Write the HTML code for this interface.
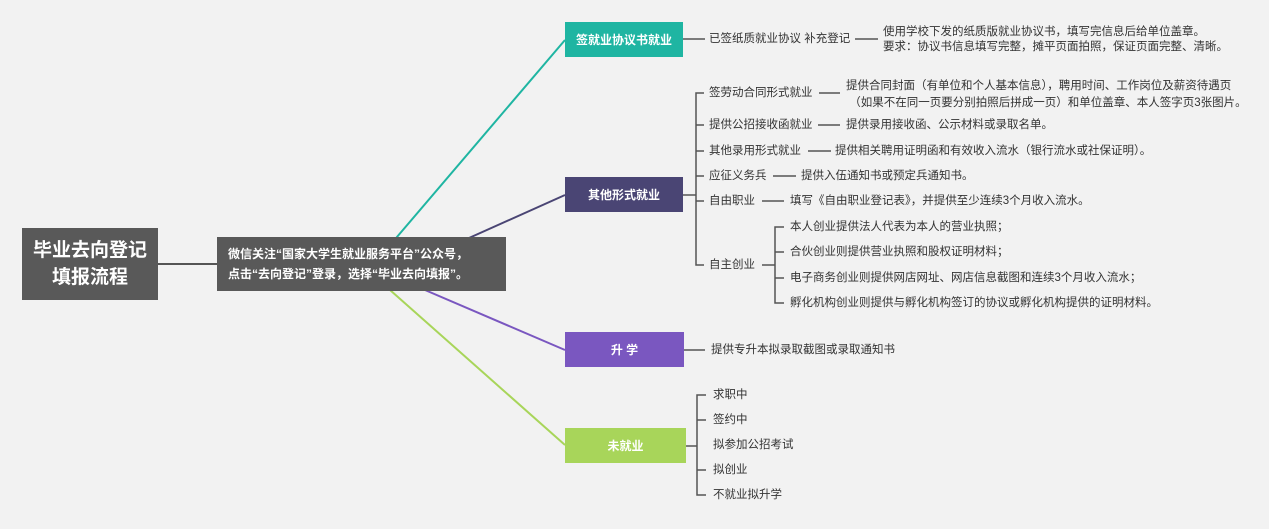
<!DOCTYPE html>
<html><head><meta charset="utf-8"><style>
html,body{margin:0;padding:0;}
body{width:1269px;height:529px;background:#f2f2f2;position:relative;overflow:hidden;font-family:"Liberation Sans","Noto Sans CJK SC",sans-serif;}
.t{position:absolute;font-size:11.5px;color:#333;white-space:nowrap;line-height:13px;}
.b{position:absolute;color:#fff;display:flex;align-items:center;justify-content:center;font-size:12px;}
svg{position:absolute;left:0;top:0;}
</style></head><body>
<svg width="1269" height="529">
<g fill="none" stroke-width="2">
<line x1="158" y1="264" x2="217" y2="264" stroke="#555"/>
<line x1="385" y1="251" x2="565" y2="40" stroke="#1fb5a2"/>
<line x1="440" y1="251" x2="565" y2="195" stroke="#4a4574"/>
<line x1="425" y1="290" x2="565" y2="350" stroke="#7a57c0"/>
<line x1="390" y1="290" x2="565" y2="445" stroke="#a8d55a"/>
</g>
<g fill="none" stroke="#555" stroke-width="1.5">
<line x1="683" y1="39" x2="705" y2="39"/>
<line x1="855" y1="39" x2="878" y2="39"/>
<line x1="683" y1="195" x2="696" y2="195"/>
<path d="M704 93 H696 V265 H704"/>
<line x1="696" y1="125" x2="704" y2="125"/>
<line x1="696" y1="151" x2="704" y2="151"/>
<line x1="696" y1="176" x2="704" y2="176"/>
<line x1="696" y1="201" x2="704" y2="201"/>
<line x1="819" y1="93" x2="840" y2="93"/>
<line x1="818" y1="125" x2="840" y2="125"/>
<line x1="808" y1="151" x2="831" y2="151"/>
<line x1="773" y1="176" x2="796" y2="176"/>
<line x1="762" y1="201" x2="784" y2="201"/>
<line x1="762" y1="265" x2="775" y2="265"/>
<path d="M784 227 H775 V303 H784"/>
<line x1="775" y1="252" x2="784" y2="252"/>
<line x1="775" y1="278" x2="784" y2="278"/>
<line x1="684" y1="350" x2="705" y2="350"/>
<line x1="686" y1="446" x2="697" y2="446"/>
<path d="M706 395 H697 V495 H706"/>
<line x1="697" y1="420" x2="706" y2="420"/>
<line x1="697" y1="470" x2="706" y2="470"/>
</g>
</svg>
<div class="b" style="left:22px;top:228px;width:136px;height:72px;background:#595959;font-size:19px;font-weight:bold;line-height:27px;text-align:center;">毕业去向登记<br>填报流程</div>
<div class="b" style="left:217px;top:237px;width:289px;height:54px;background:#595959;font-size:12px;font-weight:bold;justify-content:flex-start;padding-left:11px;box-sizing:border-box;line-height:20px;">微信关注“国家大学生就业服务平台”公众号，<br>点击“去向登记”登录，选择“毕业去向填报”。</div>
<div class="b" style="left:565px;top:22px;width:118px;height:35px;background:#1fb5a2;font-weight:bold;">签就业协议书就业</div>
<div class="b" style="left:565px;top:177px;width:118px;height:35px;background:#4a4574;font-weight:bold;">其他形式就业</div>
<div class="b" style="left:565px;top:332px;width:119px;height:35px;background:#7a57c0;font-weight:bold;">升&nbsp;学</div>
<div class="b" style="left:565px;top:428px;width:121px;height:35px;background:#a8d55a;font-weight:bold;">未就业</div>

<div class="t" style="left:709px;top:33px;">已签纸质就业协议 补充登记</div>
<div class="t" style="left:883px;top:25px;line-height:15px;">使用学校下发的纸质版就业协议书，填写完信息后给单位盖章。<br>要求：协议书信息填写完整，摊平页面拍照，保证页面完整、清晰。</div>

<div class="t" style="left:709px;top:87px;">签劳动合同形式就业</div>
<div class="t" style="left:846px;top:78px;line-height:17px;">提供合同封面（有单位和个人基本信息），聘用时间、工作岗位及薪资待遇页<br>&nbsp;（如果不在同一页要分别拍照后拼成一页）和单位盖章、本人签字页3张图片。</div>
<div class="t" style="left:709px;top:119px;">提供公招接收函就业</div>
<div class="t" style="left:846px;top:119px;">提供录用接收函、公示材料或录取名单。</div>
<div class="t" style="left:709px;top:145px;">其他录用形式就业</div>
<div class="t" style="left:835px;top:145px;">提供相关聘用证明函和有效收入流水（银行流水或社保证明）。</div>
<div class="t" style="left:709px;top:170px;">应征义务兵</div>
<div class="t" style="left:801px;top:170px;">提供入伍通知书或预定兵通知书。</div>
<div class="t" style="left:709px;top:195px;">自由职业</div>
<div class="t" style="left:790px;top:195px;">填写《自由职业登记表》，并提供至少连续3个月收入流水。</div>
<div class="t" style="left:709px;top:259px;">自主创业</div>
<div class="t" style="left:790px;top:221px;">本人创业提供法人代表为本人的营业执照；</div>
<div class="t" style="left:790px;top:246px;">合伙创业则提供营业执照和股权证明材料；</div>
<div class="t" style="left:790px;top:272px;">电子商务创业则提供网店网址、网店信息截图和连续3个月收入流水；</div>
<div class="t" style="left:790px;top:297px;">孵化机构创业则提供与孵化机构签订的协议或孵化机构提供的证明材料。</div>

<div class="t" style="left:711px;top:344px;">提供专升本拟录取截图或录取通知书</div>

<div class="t" style="left:713px;top:389px;">求职中</div>
<div class="t" style="left:713px;top:414px;">签约中</div>
<div class="t" style="left:713px;top:439px;">拟参加公招考试</div>
<div class="t" style="left:713px;top:464px;">拟创业</div>
<div class="t" style="left:713px;top:489px;">不就业拟升学</div>
</body></html>
